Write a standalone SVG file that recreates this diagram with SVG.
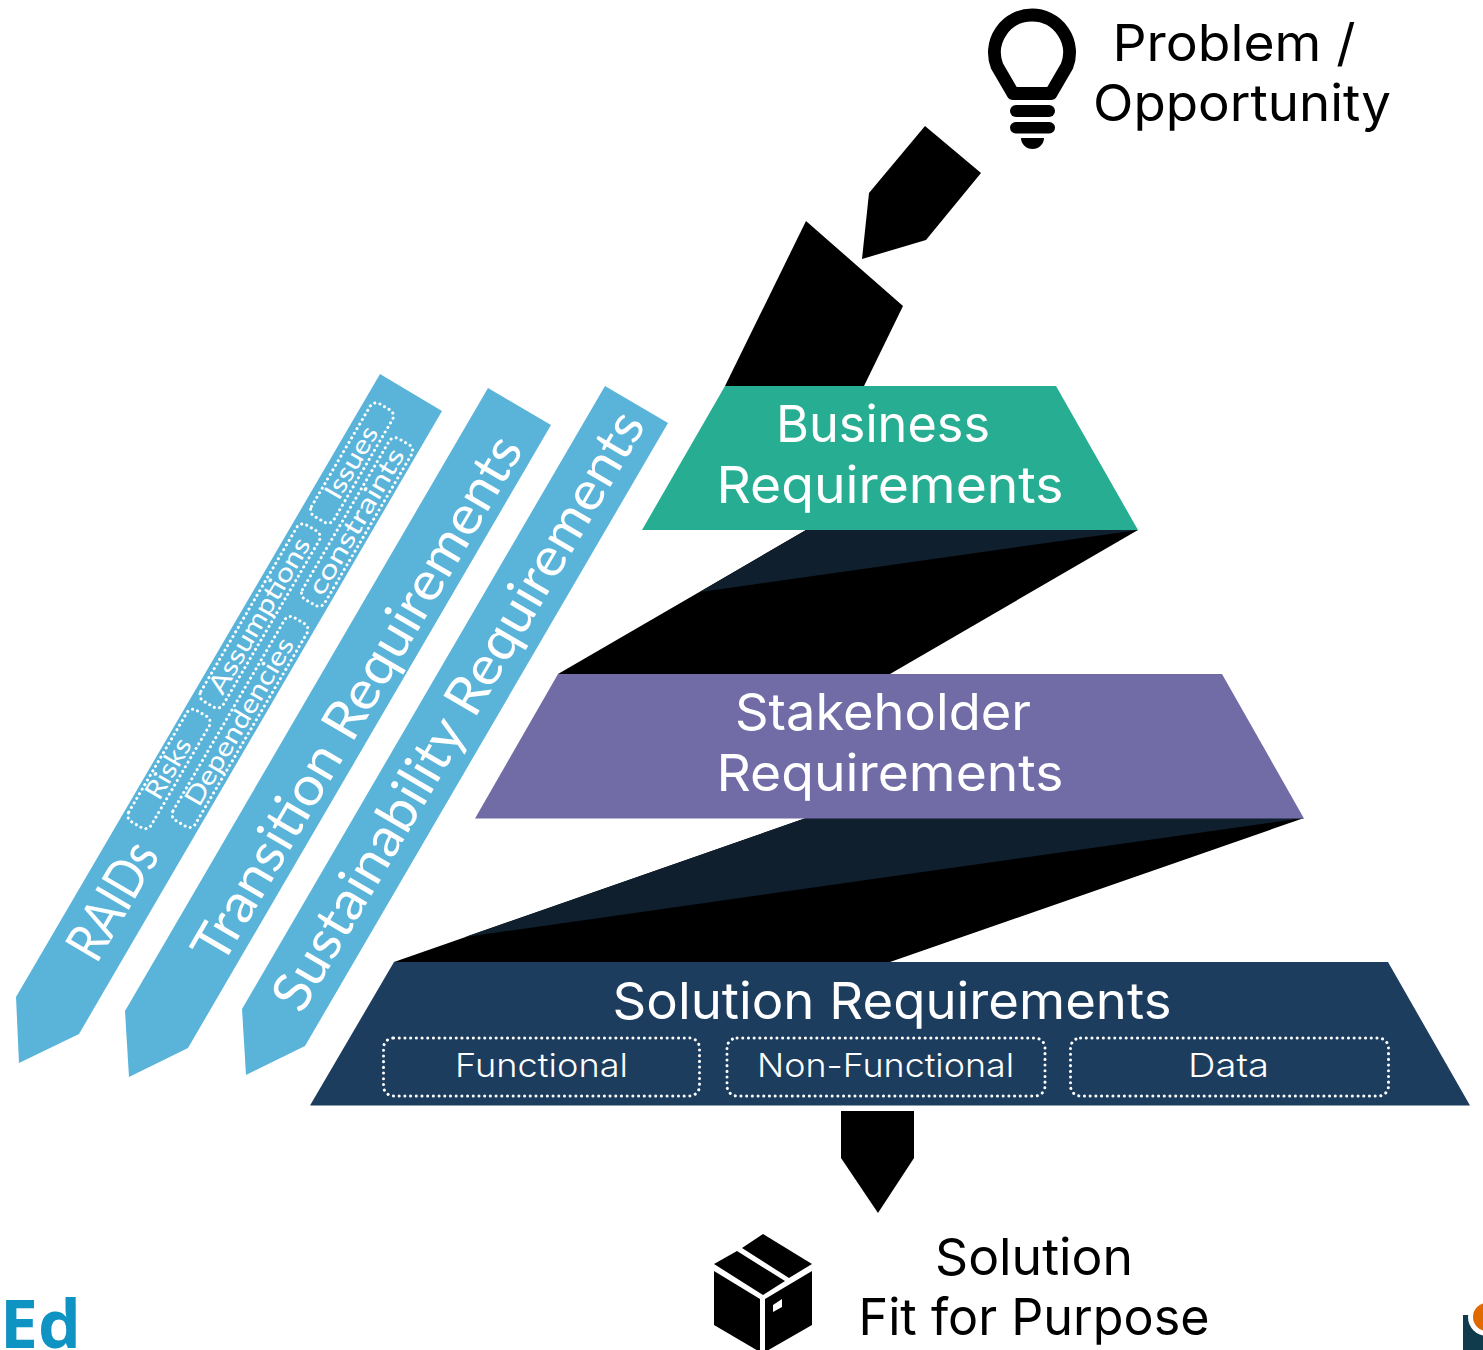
<svg xmlns="http://www.w3.org/2000/svg" width="1483" height="1350" viewBox="0 0 1483 1350">
<style>
text{font-family:"Inter","Liberation Sans",sans-serif;font-weight:400}
.h{font-size:51px;text-anchor:middle}
.w{fill:#fff}
.m{font-size:33px;fill:#fff;text-anchor:middle;font-weight:300}
.s{font-family:"Lato","Liberation Sans",sans-serif;font-size:26px;fill:#fff;text-anchor:middle;font-weight:400}
.b{font-family:"Lato","Liberation Sans",sans-serif;font-size:54px;fill:#fff;text-anchor:middle;font-weight:400}
.band{fill:#5ab4da}
.dot{fill:none;stroke:#fff;stroke-width:3;stroke-dasharray:0.1 5.2;stroke-linecap:round}
.dotb{fill:none;stroke:#fff;stroke-width:3;stroke-dasharray:0.1 5.6;stroke-linecap:round}
</style>
<rect width="1483" height="1350" fill="#fff"/>
<g id="connectors">
<polygon points="925,126 981,173 926,240 862,259 869,193"/>
<polygon points="806,221 903,306 864,386 725,386"/>
<polygon points="806,530 1138,530 890,674 558,674"/>
<polygon points="806,530 1138,530 700,592" fill="#0f1f2e"/>
<polygon points="806,818 1304,818 890,962 394,962"/>
<polygon points="806,818 1304,818 465,937" fill="#0f1f2e"/>
<polygon points="841,1111 914,1111 914,1158 878,1213 841,1158"/>
</g>
<g id="problem">
<path d="M1013,93.5 L997,66 A37.5,37.5 0 1 1 1067,66 L1051,93.5 Z" fill="none" stroke="#000" stroke-width="13" stroke-linejoin="round"/>
<rect x="1010" y="105" width="45" height="12" rx="6"/>
<rect x="1010" y="122" width="45" height="11.500" rx="5.700"/>
<path d="M1021,138 H1044 A11.500,11 0 0 1 1021,138 Z"/>
<text class="h" x="1234" y="61" textLength="243" lengthAdjust="spacingAndGlyphs">Problem /</text>
<text class="h" x="1242" y="121" textLength="298" lengthAdjust="spacingAndGlyphs">Opportunity</text>
</g>
<g id="business">
<polygon points="725,386 1056,386 1138,530 642,530" fill="#27ae92"/>
<text class="h w" x="883" y="442" textLength="214" lengthAdjust="spacingAndGlyphs">Business</text>
<text class="h w" x="890" y="503" textLength="347" lengthAdjust="spacingAndGlyphs">Requirements</text>
</g>
<g id="stakeholder">
<polygon points="558,674 1222,674 1304,818.500 475,818.500" fill="#716ca6"/>
<text class="h w" x="883" y="730" textLength="296" lengthAdjust="spacingAndGlyphs">Stakeholder</text>
<text class="h w" x="890" y="791" textLength="347" lengthAdjust="spacingAndGlyphs">Requirements</text>
</g>
<g id="solution">
<polygon points="394,962 1388,962 1470,1105.500 310,1105.500" fill="#1d3d5f"/>
<text class="h w" x="892" y="1019" textLength="559" lengthAdjust="spacingAndGlyphs">Solution Requirements</text>
<rect class="dotb" x="383.500" y="1038" width="316" height="58" rx="10"/>
<rect class="dotb" x="727" y="1038" width="318" height="58" rx="10"/>
<rect class="dotb" x="1070.500" y="1038" width="318" height="58" rx="10"/>
<text class="m" x="541.500" y="1077" textLength="173" lengthAdjust="spacingAndGlyphs">Functional</text>
<text class="m" x="885.500" y="1077" textLength="257" lengthAdjust="spacingAndGlyphs">Non-Functional</text>
<text class="m" x="1228.500" y="1077" textLength="81" lengthAdjust="spacingAndGlyphs">Data</text>
</g>
<g id="raids">
<polygon class="band" points="380,374 442,411 79,1034 19,1063 16,997"/>
<text class="b" transform="translate(128.500,910) rotate(-59.7)" textLength="127" lengthAdjust="spacingAndGlyphs">RAIDs</text>
<g transform="translate(169,769) rotate(-59.7)"><rect class="dot" x="-64.500" y="-13" width="129" height="26" rx="7"/><text class="s" y="8" textLength="66" lengthAdjust="spacingAndGlyphs">Risks</text></g>
<g transform="translate(260,616) rotate(-59.7)"><rect class="dot" x="-102" y="-13" width="204" height="26" rx="7"/><text class="s" y="8" textLength="176" lengthAdjust="spacingAndGlyphs">Assumptions</text></g>
<g transform="translate(352,463) rotate(-59.7)"><rect class="dot" x="-65" y="-13" width="130" height="26" rx="7"/><text class="s" y="8" textLength="80" lengthAdjust="spacingAndGlyphs">Issues</text></g>
<g transform="translate(240,722) rotate(-59.7)"><rect class="dot" x="-117.500" y="-13" width="235" height="26" rx="7"/><text class="s" y="8" textLength="190" lengthAdjust="spacingAndGlyphs">Dependencies</text></g>
<g transform="translate(357,522) rotate(-59.7)"><rect class="dot" x="-93" y="-13" width="186" height="26" rx="7"/><text class="s" y="8" textLength="165" lengthAdjust="spacingAndGlyphs">constraints</text></g>
</g>
<g id="transition">
<polygon class="band" points="488,388 551,425 188,1048 129,1077 125,1011"/>
<text class="b" transform="translate(373,708) rotate(-59.7)" textLength="600" lengthAdjust="spacingAndGlyphs">Transition Requirements</text>
</g>
<g id="sustainability">
<polygon class="band" points="605,386 668,423 305,1046 246,1075 242,1009"/>
<text class="b" transform="translate(474,720) rotate(-59.7)" textLength="684" lengthAdjust="spacingAndGlyphs">Sustainability Requirements</text>
</g>
<g id="outcome">
<polygon points="763,1234 812,1264 789,1278 742,1248"/>
<polygon points="737,1251 785,1281 763,1295 714,1264"/>
<polygon points="714,1271 760,1299 760,1352 714,1325"/>
<path d="M812,1271 L765,1299 V1352 L812,1325 Z M773,1305 L782,1299 V1307 L773,1312 Z" fill-rule="evenodd"/>
<text class="h" x="1034" y="1275" textLength="198" lengthAdjust="spacingAndGlyphs">Solution</text>
<text class="h" x="1034" y="1335" textLength="351" lengthAdjust="spacingAndGlyphs">Fit for Purpose</text>
</g>
<g id="logos">
<text x="0" y="1348" style="font-family:'Open Sans','Liberation Sans',sans-serif;font-size:66px;font-weight:700" fill="#0f93c3" textLength="81" lengthAdjust="spacingAndGlyphs">Ed</text>
<rect x="1463" y="1315" width="20" height="35" fill="#0f3b4c"/>
<circle cx="1487" cy="1317" r="19" fill="#fff"/>
<circle cx="1487" cy="1317" r="14" fill="#e06a00"/>
</g>
</svg>
